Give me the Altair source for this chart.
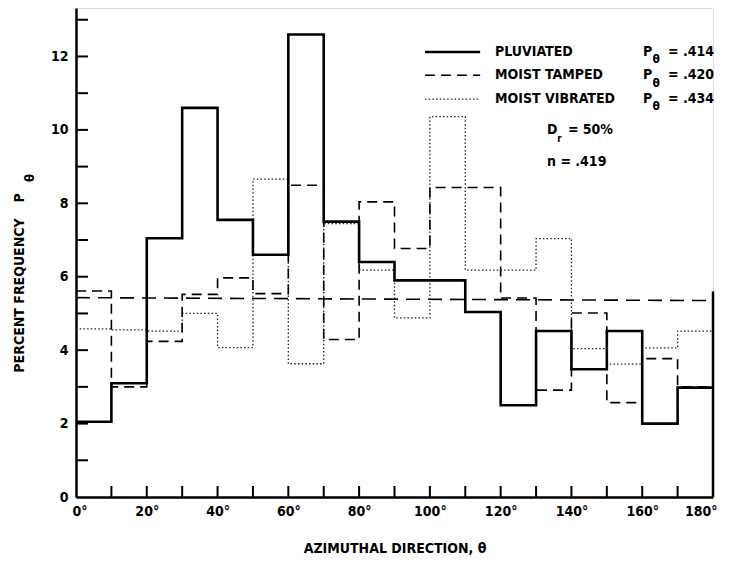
import altair as alt
import pandas as pd

# ---- data ----
bin_starts = [0, 10, 20, 30, 40, 50, 60, 70, 80, 90, 100, 110, 120, 130, 140, 150, 160, 170]
pluviated = [2.05, 3.1, 7.05, 10.6, 7.55, 6.6, 12.6, 7.5, 6.4, 5.9, 5.9, 5.04, 2.5, 4.52, 3.48, 4.52, 2.0, 2.98]
tamped = [5.61, 3.0, 4.24, 5.52, 5.97, 5.54, 8.49, 4.29, 8.04, 6.77, 8.43, 8.43, 5.42, 2.91, 5.01, 2.57, 3.77, 3.0]
vibrated = [4.58, 4.55, 4.52, 5.0, 4.07, 8.66, 3.63, 7.45, 6.18, 4.88, 10.36, 6.18, 6.18, 7.04, 4.04, 3.62, 4.06, 4.52]
uniform_x = [0, 180]
uniform_y = [5.43, 5.35]
edge_x = [180]
edge_top = [5.6]
x_ticks = [10, 20, 30, 40, 50, 60, 70, 80, 90, 100, 110, 120, 130, 140, 150, 160, 170]
y_ticks = [1, 2, 3, 4, 5, 6, 7, 8, 9, 10, 11, 12, 13]
series_names = ["PLUVIATED", "MOIST TAMPED", "MOIST VIBRATED"]
p_values = ["= .414", "= .420", "= .434"]
dr_text = "= 50%"
n_text = "n = .419"

FONT = "Liberation Sans Narrow, DejaVu Sans Condensed, sans-serif"
W, H = 637, 489
YMAX = 13.32

xs = alt.Scale(domain=[0, 180], nice=False, zero=False)
ys = alt.Scale(domain=[0, YMAX], nice=False)

xaxis = alt.Axis(
    values=list(range(0, 181, 10)),
    labelExpr="datum.value % 20 == 0 ? datum.value + '°' : ''",
    tickSize=0, grid=False, domainWidth=2.5, domainColor="black",
    labelFont=FONT, labelFontSize=14, labelFontWeight="bold", labelColor="black",
    labelPadding=7, labelFlush=True, labelFlushOffset=4, labelOverlap=False,
    title="AZIMUTHAL DIRECTION, θ", titleFont=FONT, titleFontSize=14,
    titleFontWeight="bold", titleColor="black", titleY=44, titleBaseline="top",
)
yaxis = alt.Axis(
    values=list(range(0, 14)),
    labelExpr="datum.value % 2 == 0 ? datum.value : ''",
    tickSize=0, grid=False, domainWidth=2.5, domainColor="black",
    labelFont=FONT, labelFontSize=14, labelFontWeight="bold", labelColor="black",
    labelPadding=8, labelOverlap=False,
    title="PERCENT FREQUENCY", titleFont=FONT, titleFontSize=14,
    titleFontWeight="bold", titleColor="black",
    titleX=-57, titleY=287, titleAngle=270, titleAlign="center", titleBaseline="middle",
)

X = lambda f: alt.X(f, scale=xs, axis=xaxis)
Y = lambda f: alt.Y(f, scale=ys, axis=yaxis)


def step_df(vals):
    return pd.DataFrame({"x": bin_starts + [180], "y": vals + [vals[-1]]})


def line_layer(vals, width, dash, color="black"):
    kw = dict(interpolate="step-after", color=color, strokeWidth=width)
    if dash:
        kw["strokeDash"] = dash
    return alt.Chart(step_df(vals)).mark_line(**kw).encode(x=X("x:Q"), y=Y("y:Q"))


vib = line_layer(vibrated, 1.3, [1.5, 2.2], "#222")
tam = line_layer(tamped, 1.6, [10, 6])
plu = line_layer(pluviated, 2.6, None)

uni = alt.Chart(pd.DataFrame({"x": uniform_x, "y": uniform_y})).mark_line(
    color="black", strokeWidth=1.6, strokeDash=[14, 8]
).encode(x=X("x:Q"), y=Y("y:Q"))

edge = alt.Chart(pd.DataFrame({"x": edge_x, "y": [0], "y2": edge_top})).mark_rule(
    color="black", strokeWidth=2.5
).encode(x=X("x:Q"), y=Y("y:Q"), y2="y2:Q")

xt = alt.Chart(pd.DataFrame({"x": x_ticks})).mark_rule(color="black", strokeWidth=2).encode(
    x=X("x:Q"), y=alt.value(H), y2=alt.value(H - 11)
)
yt = alt.Chart(pd.DataFrame({"y": y_ticks})).mark_rule(color="black", strokeWidth=2).encode(
    y=Y("y:Q"), x=alt.value(0), x2=alt.value(12)
)

# ---- legend block ----
leg_rows = [12.12, 11.49, 10.84]
leg_styles = [(2.6, None, "black"), (1.6, [10, 6], "black"), (1.3, [1.5, 2.2], "#222")]
legend_layers = []
for yv, (w, d, c) in zip(leg_rows, leg_styles):
    kw = dict(color=c, strokeWidth=w)
    if d:
        kw["strokeDash"] = d
    legend_layers.append(
        alt.Chart(pd.DataFrame({"x": [98.6], "x2": [114.2], "y": [yv]})).mark_rule(**kw).encode(
            x=X("x:Q"), x2="x2:Q", y=Y("y:Q")
        )
    )


def text_layer(xv, yv, texts, size=14, align="left"):
    return alt.Chart(pd.DataFrame({"x": xv, "y": yv, "t": texts})).mark_text(
        font=FONT, fontSize=size, fontWeight="bold", color="black", align=align, baseline="middle"
    ).encode(x=X("x:Q"), y=Y("y:Q"), text="t:N")


names_t = text_layer([118.4] * 3, leg_rows, series_names)
p_t = text_layer([160.2] * 3, leg_rows, ["P"] * 3)
theta_t = text_layer([162.9] * 3, [v - 0.2 for v in leg_rows], ["θ"] * 3, size=12)
pv_t = text_layer([167.3] * 3, leg_rows, p_values)
d_t = text_layer([133.1], [9.99], ["D"])
r_t = text_layer([136.0], [9.74], ["r"], size=10)
dv_t = text_layer([139.0], [9.99], [dr_text])
n_t = text_layer([133.1], [9.13], [n_text])

# y-axis title symbol "P" with subscript theta (rotated, placed left of the axis)
ytitle_p = alt.Chart(pd.DataFrame({"t": ["P"]})).mark_text(
    font=FONT, fontSize=14, fontWeight="bold", color="black", angle=270, baseline="middle"
).encode(x=alt.value(-56), y=alt.value(190), text="t:N")
ytitle_th = alt.Chart(pd.DataFrame({"t": ["θ"]})).mark_text(
    font=FONT, fontSize=13, fontWeight="bold", color="black", angle=270, baseline="middle"
).encode(x=alt.value(-46), y=alt.value(170), text="t:N")

chart = alt.layer(
    uni, vib, tam, plu, edge, xt, yt, *legend_layers,
    names_t, p_t, theta_t, pv_t, d_t, r_t, dv_t, n_t, ytitle_p, ytitle_th
).properties(
    width=W, height=H,
    autosize=alt.AutoSizeParams(type="none"),
    padding={"left": 68, "top": 0, "right": 8, "bottom": 62},
).configure_view(stroke=None).configure(background="white")

chart.save("out.html", embed_options={"renderer": "svg", "actions": False})
